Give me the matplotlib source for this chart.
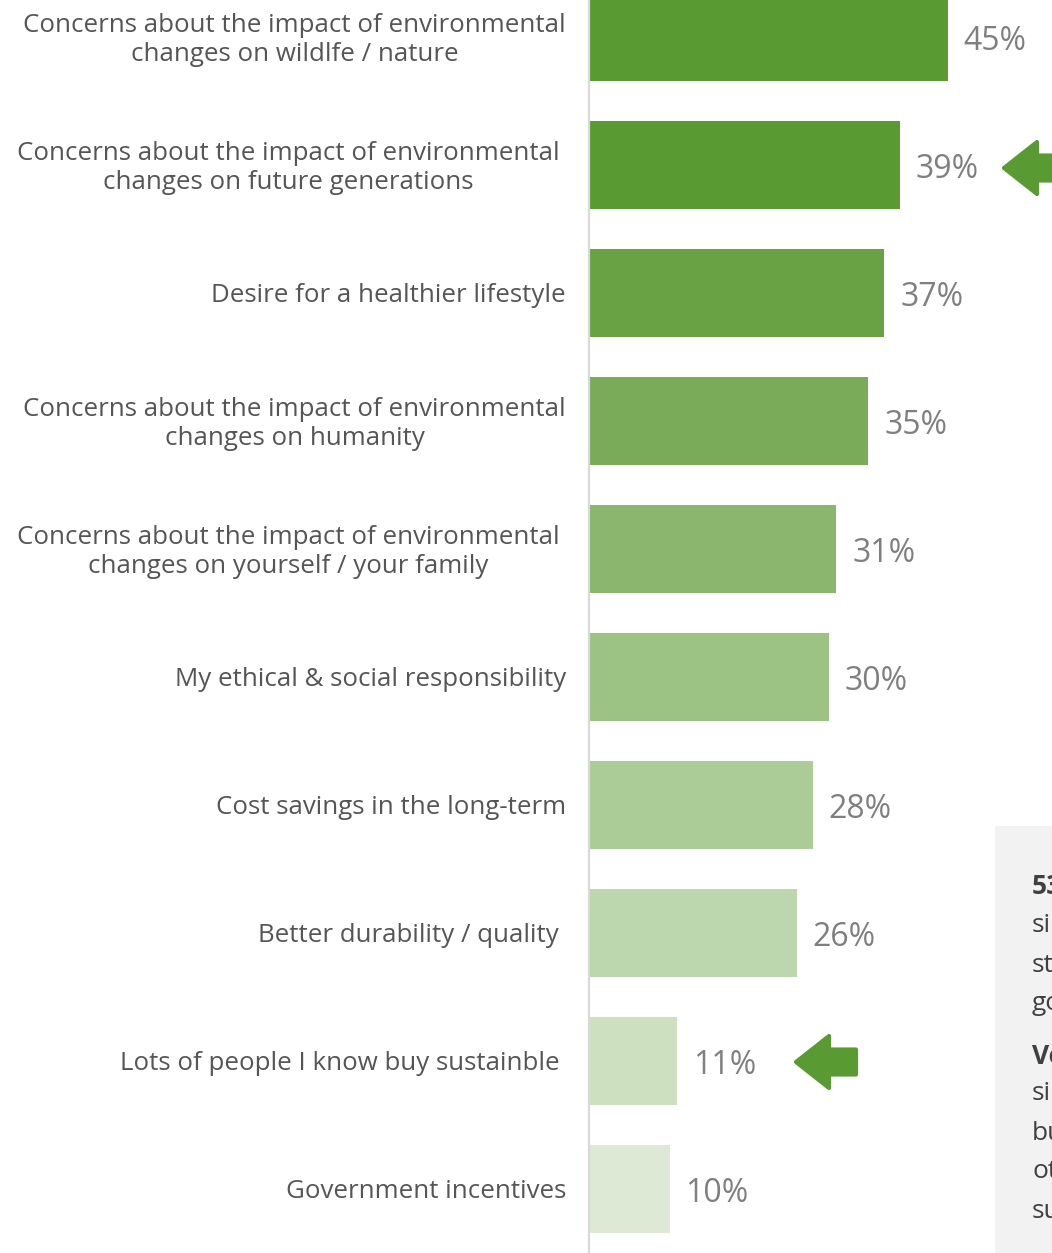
import matplotlib.pyplot as plt
from matplotlib.patches import Polygon, Rectangle

plt.rcParams['font.family'] = ['Open Sans', 'DejaVu Sans']

reasons = [
    'Concerns about the impact of environmental\nchanges on wildlfe / nature',
    'Concerns about the impact of environmental \nchanges on future generations ',
    'Desire for a healthier lifestyle',
    'Concerns about the impact of environmental\nchanges on humanity',
    'Concerns about the impact of environmental \nchanges on yourself / your family ',
    'My ethical & social responsibility',
    'Cost savings in the long-term',
    'Better durability / quality ',
    'Lots of people I know buy sustainble ',
    'Government incentives',
]
shares = [45, 39, 37, 35, 31, 30, 28, 26, 11, 10]
colors = ['#5a9a33', '#5a9a33', '#68a244', '#79ab59', '#8ab76d',
          '#9cc384', '#abcc97', '#bcd7ad', '#cde1c1', '#dde9d4']

side_lines = [('53%', True), ('since', False), ('store', False), ('goods', False),
              ('Very', True), ('similar', False), ('buy', False), ('others', False),
              ('sustainable', False)]

W, H = 1052, 1253
fig = plt.figure(figsize=(W / 100, H / 100), dpi=100)
ax = fig.add_axes([590 / W, 0, 1 - 590 / W, 1])

px_per_pct = 7.95
ax.set_xlim(0, (W - 590) / px_per_pct)
ax.set_ylim((H - 37) / 128, -37 / 128)

pos = range(len(shares))
ax.barh(pos, shares, height=88 / 128, color=colors, zorder=2)

for s in ['top', 'right', 'bottom']:
    ax.spines[s].set_visible(False)
ax.spines['left'].set_color('#d9d9d9')
ax.spines['left'].set_linewidth(1.6)
ax.spines['left'].set_position(('outward', 1))
ax.set_xticks([])
ax.set_yticks([])

for i, (lab, v) in enumerate(zip(reasons, shares)):
    ax.annotate(lab, (0, i), xytext=(-24, -3), textcoords='offset pixels',
                ha='right', va='center', multialignment='center',
                fontsize=18.6, color='#555555', linespacing=1.22)
    ax.annotate(f'{v}%', (v, i), xytext=(16, -5), textcoords='offset pixels',
                ha='left', va='center', fontsize=23, color='#7f7f7f')

# left-pointing arrows next to the highlighted bars
def arrow(tip_x, tip_y, length=60, head=33, half_h=26, shaft_h=12.5):
    pts = [(tip_x, tip_y), (tip_x + head, tip_y - half_h),
           (tip_x + head, tip_y - shaft_h), (tip_x + length, tip_y - shaft_h),
           (tip_x + length, tip_y + shaft_h), (tip_x + head, tip_y + shaft_h),
           (tip_x + head, tip_y + half_h)]
    pts = [(x / W, 1 - y / H) for x, y in pts]
    fig.patches.append(Polygon(pts, closed=True, transform=fig.transFigure,
                               facecolor='#5a9a33', edgecolor='#5a9a33',
                               linewidth=3, joinstyle='round', zorder=5))

arrow(1004, 168)
arrow(796, 1062)

# grey side note, running off the right edge
fig.patches.append(Rectangle((995 / W, 0), 1, 1 - 826 / H, transform=fig.transFigure,
                             facecolor='#f2f2f2', edgecolor='none', zorder=1))
ys = [887, 926, 966, 1004, 1056, 1094, 1133, 1172, 1211]
for (txt, bold), y in zip(side_lines, ys):
    fig.text(1032 / W, 1 - y / H, txt, ha='left', va='center', fontsize=19,
             color='#404040', fontweight='bold' if bold else 'normal', zorder=6)

fig.savefig('out.png', dpi=100)
